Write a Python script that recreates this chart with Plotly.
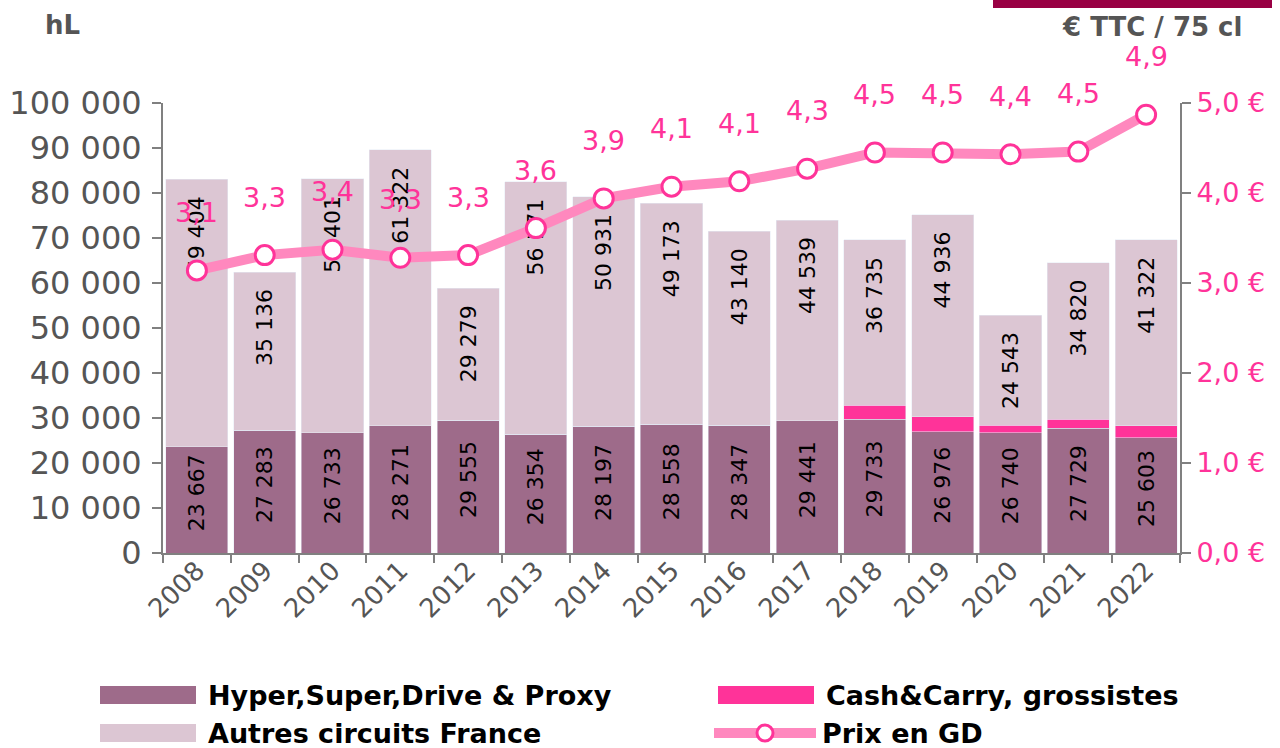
import plotly.graph_objects as go

years = [str(y) for y in range(2008, 2023)]
hyper = [23667, 27283, 26733, 28271, 29555, 26354, 28197, 28558, 28347, 29441, 29733, 26976, 26740, 27729, 25603]
cash_carry = [0, 0, 0, 0, 0, 0, 0, 0, 0, 0, 3100, 3300, 1600, 2000, 2700]
autres = [59404, 35136, 56401, 61322, 29279, 56171, 50931, 49173, 43140, 44539, 36735, 44936, 24543, 34820, 41322]
prix = [3.14, 3.31, 3.37, 3.28, 3.31, 3.61, 3.94, 4.07, 4.13, 4.27, 4.45, 4.45, 4.43, 4.46, 4.87]
prix_labels = ["3,1", "3,3", "3,4", "3,3", "3,3", "3,6", "3,9", "4,1", "4,1", "4,3", "4,5", "4,5", "4,4", "4,5", "4,9"]
left_ticks = [0, 10000, 20000, 30000, 40000, 50000, 60000, 70000, 80000, 90000, 100000]
right_ticks = [0, 1, 2, 3, 4, 5]
right_tick_labels = ["0,0 €", "1,0 €", "2,0 €", "3,0 €", "4,0 €", "5,0 €"]

series_names = ["Hyper,Super,Drive & Proxy", "Cash&Carry, grossistes", "Autres circuits France", "Prix en GD"]
C_HYPER = "#9e6b8a"
C_CC = "#ff3399"
C_AUTRES = "#dcc6d3"
C_LINE = "#ff88be"
C_PINK = "#ff3399"
GREY = "#555555"
FONT = "DejaVu Sans"
NB = "\u00a0"


def fmt(v):
    return f"{v:,}".replace(",", " ")


fig = go.Figure()
fig.add_bar(x=years, y=hyper, name=series_names[0], marker_color=C_HYPER,
            text=[NB * 2 + fmt(v) for v in hyper], textposition="inside", textangle=-90,
            insidetextanchor="middle", textfont=dict(color="black", size=22, family=FONT))
fig.add_bar(x=years, y=cash_carry, name=series_names[1], marker_color=C_CC)
fig.add_bar(x=years, y=autres, name=series_names[2], marker_color=C_AUTRES,
            text=[fmt(v) + NB * 2 for v in autres], textposition="inside", textangle=-90,
            insidetextanchor="end", textfont=dict(color="black", size=22, family=FONT))
fig.add_scatter(x=years, y=prix, name=series_names[3], yaxis="y2", mode="lines+markers",
                line=dict(color=C_LINE, width=10),
                marker=dict(size=19, color="white", line=dict(color=C_PINK, width=3)))

# price labels (category axis: position by category index)
for i, (p, lab) in enumerate(zip(prix, prix_labels)):
    fig.add_annotation(x=i, y=p, xref="x", yref="y2", text=lab, showarrow=False, yshift=58,
                       xanchor="center", yanchor="middle",
                       font=dict(color=C_PINK, size=27, family=FONT))

# helpers for paper coordinates (plot area: x 163..1180, y 103..553 px)
def px_x(px):
    return (px - 163) / 1017


def px_y(py):
    return (553 - py) / 450


# axis titles
fig.add_annotation(x=px_x(62), y=px_y(25), xref="paper", yref="paper", text="<b>hL</b>",
                   xanchor="center", yanchor="middle",
                   showarrow=False, font=dict(color=GREY, size=26, family=FONT))
fig.add_annotation(x=px_x(1152), y=px_y(27), xref="paper", yref="paper", text="<b>€ TTC / 75 cl</b>",
                   xanchor="center", yanchor="middle",
                   showarrow=False, font=dict(color=GREY, size=26, family=FONT))

shapes = []
# dark box at top right (bottom edge visible)
shapes.append(dict(type="rect", xref="paper", yref="paper", x0=px_x(993), x1=px_x(1272),
                   y0=px_y(8), y1=px_y(-20), fillcolor="#990044", line=dict(width=0)))

# manual legend
legend_items = [
    (100, 695, C_HYPER, series_names[0], "bar"),
    (718, 695, C_CC, series_names[1], "bar"),
    (100, 733, C_AUTRES, series_names[2], "bar"),
    (714, 733, C_LINE, series_names[3], "line"),
]
for lx, ly, col, name, kind in legend_items:
    if kind == "bar":
        shapes.append(dict(type="rect", xref="paper", yref="paper", x0=px_x(lx), x1=px_x(lx + 96),
                           y0=px_y(ly + 9), y1=px_y(ly - 9), fillcolor=col, line=dict(width=0)))
    else:
        shapes.append(dict(type="line", xref="paper", yref="paper", x0=px_x(lx), x1=px_x(lx + 102),
                           y0=px_y(ly), y1=px_y(ly), line=dict(color=col, width=10)))
        shapes.append(dict(type="circle", xref="paper", yref="paper", x0=px_x(lx + 43), x1=px_x(lx + 59),
                           y0=px_y(ly + 8), y1=px_y(ly - 8), fillcolor="white",
                           line=dict(color=C_PINK, width=3)))
    fig.add_annotation(x=px_x(lx + 106), y=px_y(ly), xref="paper", yref="paper", text=name,
                       xanchor="left", yanchor="middle", showarrow=False,
                       font=dict(color="black", size=27, family=FONT, weight="bold"))

fig.update_layout(
    width=1280, height=748,
    margin=dict(l=163, r=100, t=103, b=195, autoexpand=False),
    barmode="stack", bargap=0.085,
    plot_bgcolor="white", paper_bgcolor="white",
    separators=", ",
    showlegend=False,
    shapes=shapes,
    font=dict(family=FONT, color=GREY),
    xaxis=dict(type="category", range=[-0.5, len(years) - 0.5], showline=True, linecolor="#808080",
               linewidth=2, ticks="outside", ticklabelstandoff=-10, automargin=False,
               tickson="boundaries", ticklen=8, tickcolor="#808080", tickwidth=2, tickangle=-45,
               tickfont=dict(size=26, color=GREY, family=FONT)),
    yaxis=dict(range=[0, 100000], tickvals=left_ticks, tickformat=",d", showgrid=False, automargin=False,
               showline=True, linecolor="#808080", linewidth=2, ticks="outside", ticklen=9,
               tickcolor="#808080", tickwidth=2, zeroline=False, ticklabelstandoff=4,
               tickfont=dict(size=32, color=GREY, family=FONT)),
    yaxis2=dict(range=[0, 5], overlaying="y", side="right", tickvals=right_ticks, ticktext=right_tick_labels,
                showgrid=False, showline=True, linecolor="#808080", linewidth=2, ticks="outside",
                ticklen=9, tickcolor="#808080", tickwidth=2, zeroline=False, automargin=False,
                tickfont=dict(size=27, color=C_PINK, family=FONT)),
)

fig.write_html("out.html", config={"displayModeBar": False},
               post_script="document.body.style.margin='0';document.body.style.overflow='hidden';")
